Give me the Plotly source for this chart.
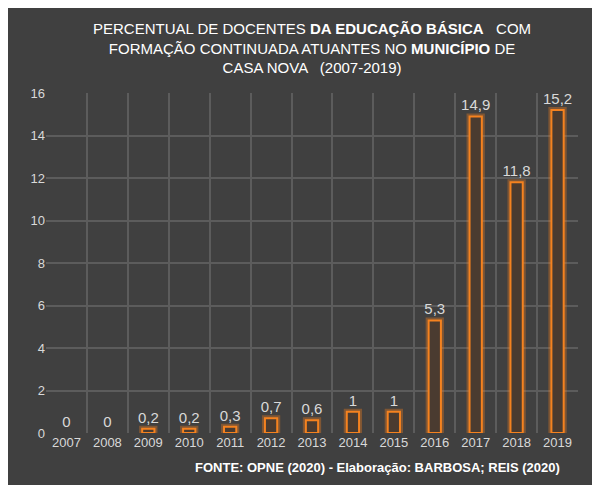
import plotly.graph_objects as go

anos = ["2007", "2008", "2009", "2010", "2011", "2012", "2013",
        "2014", "2015", "2016", "2017", "2018", "2019"]
percentual = [0, 0, 0.2, 0.2, 0.3, 0.7, 0.6, 1, 1, 5.3, 14.9, 11.8, 15.2]
rotulos = [f"{v:g}".replace(".", ",") for v in percentual]
yticks = [0, 2, 4, 6, 8, 10, 12, 14, 16]

xs = list(range(len(anos)))
fonte = "Liberation Sans Narrow, Arial Narrow, sans-serif"
# barras com valor zero nao mostram contorno
borda = [2 if v > 0 else 0 for v in percentual]
brilho = [6 if v > 0 else 0 for v in percentual]

fig = go.Figure()
fig.add_trace(go.Bar(x=xs, y=percentual, width=0.3, marker=dict(
    color="rgba(0,0,0,0)", line=dict(color="rgba(245,130,31,0.35)", width=brilho)),
    hoverinfo="skip"))
fig.add_trace(go.Bar(x=xs, y=percentual, width=0.3, marker=dict(
    color="#4a3b30", line=dict(color="#f5821f", width=borda)),
    text=rotulos, textposition="outside", cliponaxis=False, constraintext="none",
    textfont=dict(color="#d9d9d9", size=15, family=fonte)))

fig.update_layout(
    width=600, height=485, barmode="overlay", showlegend=False,
    paper_bgcolor="#404040", plot_bgcolor="#404040",
    margin=dict(l=38, r=30, t=85, b=60),
    font=dict(family=fonte, color="#d9d9d9", size=13),
)
fig.add_annotation(
    text="PERCENTUAL DE DOCENTES <b>DA EDUCAÇÃO BÁSICA</b>   COM<br>"
         "FORMAÇÃO CONTINUADA ATUANTES NO <b>MUNICÍPIO</b> DE<br>"
         "CASA NOVA   (2007-2019)",
    xref="paper", yref="paper", x=0.5, y=1.22, xanchor="center", yanchor="top",
    showarrow=False, font=dict(size=15, color="#ffffff", family=fonte))
fig.update_xaxes(range=[-0.5, 12.5], tickvals=xs, ticktext=anos, showgrid=False,
                 zeroline=False, showline=False, ticks="",
                 minor=dict(tickvals=[i - 0.5 for i in range(14)], showgrid=True,
                            gridcolor="#5c5c5c", gridwidth=1.5))
fig.update_yaxes(range=[0, 16], tickvals=yticks, gridcolor="#5c5c5c", gridwidth=1.5,
                 zeroline=False, showline=False)
fig.add_annotation(text="<b>FONTE: OPNE (2020) - Elaboração: BARBOSA; REIS (2020)</b>",
                   xref="paper", yref="paper", x=0.97, y=-0.13, xanchor="right",
                   showarrow=False, font=dict(size=13, color="#ffffff", family=fonte))
fig.write_html("out.html")
